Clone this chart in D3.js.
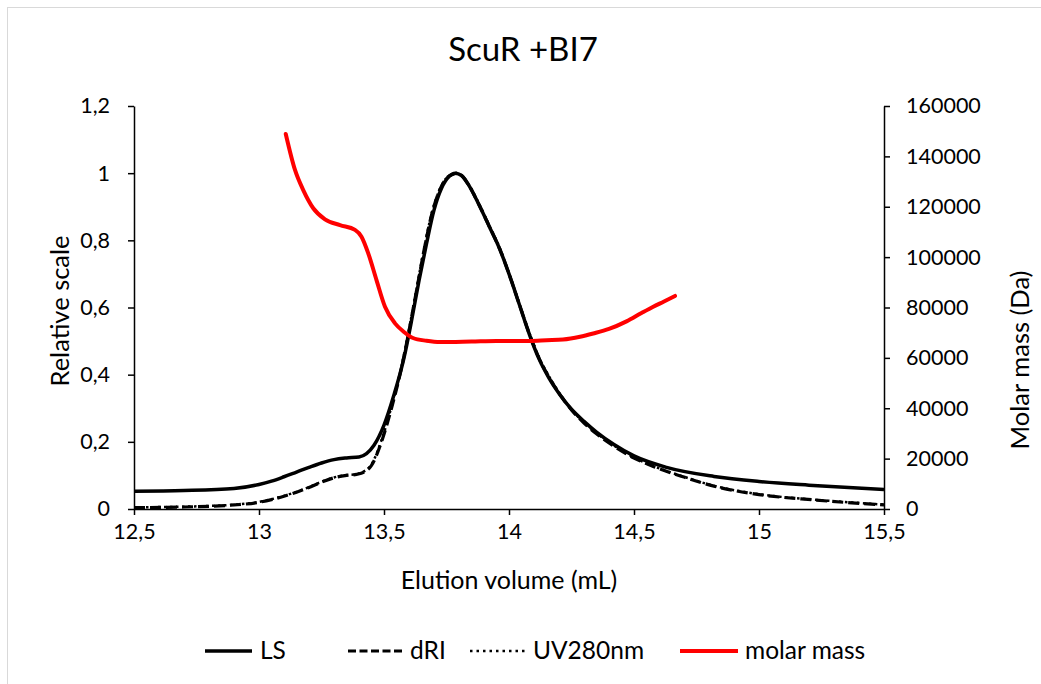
<!DOCTYPE html>
<html><head><meta charset="utf-8">
<script src="https://cdn.jsdelivr.net/npm/d3@7"></script>
<style>body{margin:0;background:#fff}svg{display:block}text{font-family:Lato,"Open Sans",sans-serif;fill:#000}</style>
</head><body><svg id="c" width="1041" height="684"></svg>
<script>
const xTicks = [12.5,13,13.5,14,14.5,15,15.5];
const yLeftTicks = [0,0.2,0.4,0.6,0.8,1,1.2];
const yRightTicks = [0,20000,40000,60000,80000,100000,120000,140000,160000];

const lsX = [12.5,12.7,12.9,13.0,13.05,13.1,13.15,13.2,13.25,13.3,13.35,13.4,13.43,13.46,13.5,13.54,13.58,13.61,13.64,13.67,13.70,13.73,13.76,13.785,13.81,13.84,13.88,13.92,13.964,14.0,14.04,14.084,14.12,14.16,14.2,14.25,14.3,14.35,14.42,14.5,14.63,14.82,15.0,15.2,15.5];
const lsY = [0.053,0.055,0.061,0.073,0.083,0.096,0.11,0.124,0.137,0.147,0.152,0.155,0.165,0.19,0.25,0.34,0.45,0.56,0.68,0.79,0.89,0.955,0.99,1.0,0.993,0.963,0.906,0.843,0.772,0.70,0.612,0.515,0.447,0.39,0.344,0.297,0.261,0.229,0.192,0.158,0.124,0.097,0.082,0.071,0.058];

const driX = [12.5,12.7,12.9,13.0,13.05,13.1,13.15,13.2,13.25,13.3,13.35,13.39,13.42,13.45,13.49,13.53,13.57,13.6,13.63,13.66,13.69,13.72,13.75,13.78,13.79,13.81,13.84,13.88,13.92,13.964,14.0,14.04,14.084,14.12,14.16,14.2,14.25,14.3,14.35,14.42,14.5,14.58,14.7,14.82,15.0,15.22,15.5];
const driY = [0.004,0.006,0.012,0.02,0.028,0.038,0.05,0.064,0.08,0.093,0.1,0.103,0.11,0.13,0.2,0.3,0.42,0.53,0.65,0.77,0.875,0.945,0.985,0.998,1.0,0.993,0.963,0.906,0.843,0.772,0.70,0.612,0.516,0.449,0.392,0.345,0.295,0.256,0.224,0.187,0.152,0.126,0.095,0.068,0.043,0.027,0.012];

const uvX = [12.5,12.7,12.9,13.0,13.05,13.1,13.15,13.2,13.25,13.3,13.35,13.39,13.42,13.45,13.49,13.53,13.57,13.6,13.63,13.66,13.69,13.72,13.75,13.78,13.79,13.81,13.84,13.88,13.92,13.964,14.0,14.04,14.084,14.12,14.16,14.2,14.25,14.3,14.35,14.42,14.5,14.58,14.7,14.82,15.0,15.22,15.5];
const uvY = [0.005,0.007,0.013,0.021,0.029,0.039,0.051,0.065,0.081,0.094,0.101,0.104,0.112,0.133,0.205,0.305,0.425,0.535,0.655,0.775,0.878,0.947,0.986,0.998,1.0,0.994,0.965,0.909,0.846,0.775,0.703,0.615,0.519,0.452,0.395,0.347,0.297,0.258,0.226,0.189,0.153,0.127,0.096,0.069,0.044,0.028,0.013];

const mmX = [13.107,13.144,13.177,13.217,13.264,13.324,13.384,13.41,13.437,13.47,13.504,13.544,13.58,13.616,13.67,13.724,13.85,13.95,14.084,14.15,14.216,14.284,14.337,14.4,14.47,14.53,14.577,14.62,14.664];
const mmY = [148900,134600,126600,119400,115000,112700,110800,108100,101500,90900,80300,73700,70300,67900,66800,66300,66500,66700,66700,67000,67300,68400,69700,71500,74500,77800,80300,82400,84600];

const seriesNames = ["LS","dRI","UV280nm","molar mass"];

const svg = d3.select("#c");
svg.append("rect").attr("x",7.5).attr("y",7.5).attr("width",1040).attr("height",680)
  .attr("fill","#fff").attr("stroke","#d9d9d9").attr("stroke-width",1);

const L = 134, R = 884, T = 106, B = 509;
const x = d3.scaleLinear().domain([12.5,15.5]).range([L,R]);
const yL = d3.scaleLinear().domain([0,1.2]).range([B,T]);
const yR = d3.scaleLinear().domain([0,160000]).range([B,T]);

const loc = d3.formatLocale({decimal:",",thousands:"",grouping:[3],currency:["",""]});
const fmt = v => loc.format("~g")(v);

function styleAxis(g){
  g.selectAll(".domain").attr("stroke","#000").attr("stroke-width",1.5);
  g.selectAll(".tick line").attr("stroke","#000").attr("stroke-width",1.5);
  g.selectAll("text").attr("font-size",21.5).attr("font-family","Lato").attr("fill","#000");
}
const gx = svg.append("g").attr("transform",`translate(0,${B})`)
  .call(d3.axisBottom(x).tickValues(xTicks).tickFormat(fmt).tickSize(6).tickSizeOuter(0).tickPadding(9));
styleAxis(gx);
const gl = svg.append("g").attr("transform",`translate(${L},0)`)
  .call(d3.axisLeft(yL).tickValues(yLeftTicks).tickFormat(fmt).tickSize(6).tickSizeOuter(0).tickPadding(18));
styleAxis(gl);
const gr = svg.append("g").attr("transform",`translate(${R},0)`)
  .call(d3.axisRight(yR).tickValues(yRightTicks).tickFormat(d3.format("d")).tickSize(6).tickSizeOuter(0).tickPadding(16));
styleAxis(gr);

svg.append("clipPath").attr("id","pc").append("rect").attr("x",L).attr("y",T-10).attr("width",R-L).attr("height",B-T+12);

const lineL = d3.line().x(d=>x(d[0])).y(d=>yL(d[1])).curve(d3.curveMonotoneX);
const lineR = d3.line().x(d=>x(d[0])).y(d=>yR(d[1])).curve(d3.curveMonotoneX);
const zip = (a,b)=>a.map((v,i)=>[v,b[i]]);
const plot = svg.append("g").attr("clip-path","url(#pc)");

plot.append("path").attr("d",lineL(zip(uvX,uvY))).attr("fill","none").attr("stroke","#000").attr("stroke-width",2.5).attr("stroke-dasharray","2.5,3.5");
plot.append("path").attr("d",lineL(zip(driX,driY))).attr("fill","none").attr("stroke","#000").attr("stroke-width",3.2).attr("stroke-dasharray","11,5");
plot.append("path").attr("d",lineL(zip(lsX,lsY))).attr("fill","none").attr("stroke","#000").attr("stroke-width",3.5);
plot.append("path").attr("d",lineR(zip(mmX,mmY))).attr("fill","none").attr("stroke","#ff0000").attr("stroke-width",4).attr("stroke-linecap","round");

svg.append("text").attr("x",523).attr("y",61).attr("text-anchor","middle").attr("font-size",33).text("ScuR +BI7");
svg.append("text").attr("x",509).attr("y",589).attr("text-anchor","middle").attr("font-size",25).text("Elution volume (mL)");
svg.append("text").attr("transform","translate(69,311) rotate(-90)").attr("text-anchor","middle").attr("font-size",25.5).text("Relative scale");
svg.append("text").attr("transform","translate(1029,360) rotate(-90)").attr("text-anchor","middle").attr("font-size",25.5).text("Molar mass (Da)");

const leg = [
  {name:seriesNames[0],x1:205,x2:252,tx:260,color:"#000",w:3.5,dash:null},
  {name:seriesNames[1],x1:348,x2:402,tx:410,color:"#000",w:3,dash:"8,3.5"},
  {name:seriesNames[2],x1:470,x2:527,tx:533,color:"#000",w:2.5,dash:"2.5,4"},
  {name:seriesNames[3],x1:680,x2:738,tx:745,color:"#ff0000",w:4,dash:null}
];
const lg = svg.append("g");
leg.forEach(d=>{
  lg.append("line").attr("x1",d.x1).attr("x2",d.x2).attr("y1",651).attr("y2",651).attr("stroke",d.color).attr("stroke-width",d.w).attr("stroke-dasharray",d.dash);
  lg.append("text").attr("x",d.tx).attr("y",659).attr("font-size",24.5).text(d.name);
});
</script></body></html>
